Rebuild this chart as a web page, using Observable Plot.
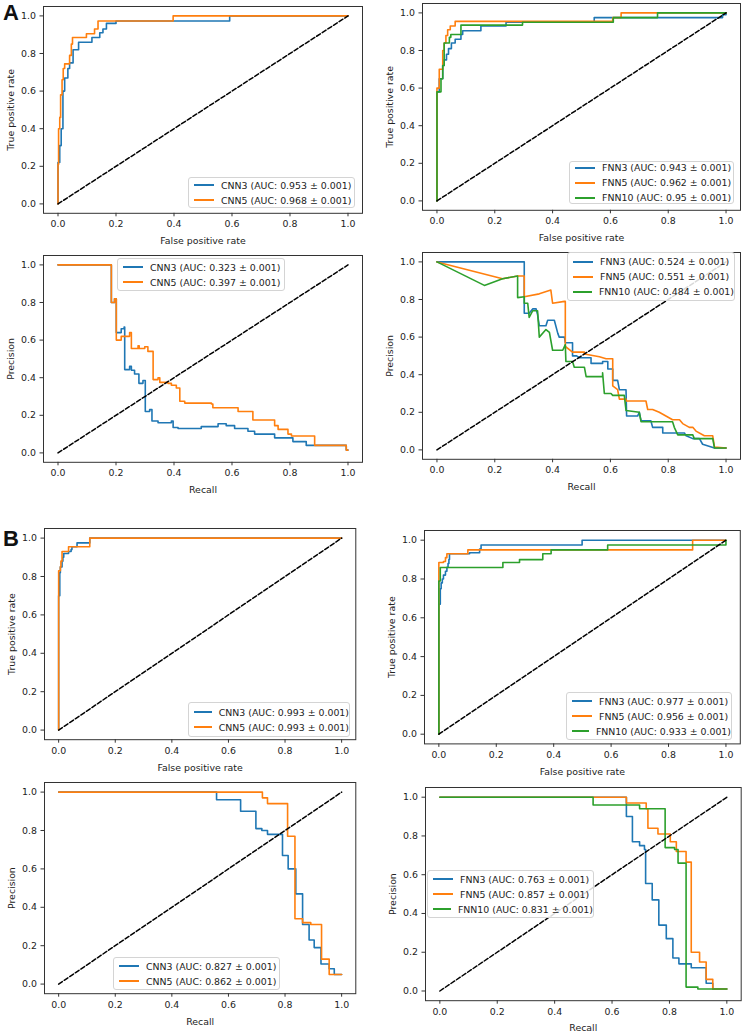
<!DOCTYPE html>
<html>
<head>
<meta charset="utf-8">
<script src="https://cdn.jsdelivr.net/npm/d3@7"></script>
<script src="https://cdn.jsdelivr.net/npm/@observablehq/plot@0.6"></script>
<style>
  html, body { margin: 0; padding: 0; background: #fff; overflow: hidden; }
  #fig { position: relative; width: 744px; height: 1033px; font-family: "DejaVu Sans", sans-serif; }
  .panel { position: absolute; }
  .tag { position: absolute; font-family: "Liberation Sans", Arial, sans-serif; font-weight: bold; font-size: 22px; line-height: 22px; color: #111; }
  .legend { position: absolute; box-sizing: border-box; border: 1px solid #d4d4d4; border-radius: 3px;
            background: rgba(255,255,255,0.85); display: flex; flex-direction: column; justify-content: center;
            font-family: "DejaVu Sans", sans-serif; font-size: 9.4px; color: #222; }
  .legend .row { height: 15px; line-height: 15px; white-space: nowrap; padding-left: 5px; display: flex; align-items: center; }
  .legend .handle { display: inline-block; width: 20px; height: 2px; margin-right: 7px; }
</style>
</head>
<body>
<div id="fig"></div>
<script>
// ---------- data ----------
const tickValues = [0, 0.2, 0.4, 0.6, 0.8, 1.0];
const chanceLine = [[0, 0], [1, 1]];

// A – ROC, CNN models  [false positive rate, true positive rate]
const A_roc_CNN3 = [[0,0],[0,0.22],[0.006,0.31],[0.011,0.40],[0.017,0.60],[0.023,0.67],[0.034,0.72],[0.04,0.75],[0.052,0.82],[0.071,0.86],[0.117,0.885],[0.144,0.91],[0.155,0.93],[0.167,0.96],[0.2,0.973],[0.592,1.0],[1,1]];
const A_roc_CNN5 = [[0,0],[0,0.21],[0.002,0.40],[0.006,0.46],[0.009,0.58],[0.014,0.66],[0.018,0.72],[0.023,0.745],[0.04,0.79],[0.046,0.85],[0.05,0.885],[0.098,0.905],[0.126,0.93],[0.138,0.973],[0.397,1.0],[1,1]];
const A_roc_CNN_auc = ["0.953", "0.968"];

// A – ROC, FNN models
const A_roc_FNN3 = [[0,0],[0,0.58],[0.008,0.65],[0.02,0.72],[0.025,0.75],[0.033,0.78],[0.04,0.81],[0.05,0.84],[0.063,0.86],[0.083,0.885],[0.089,0.905],[0.152,0.93],[0.239,0.95],[0.544,0.975],[0.988,0.99],[1,1]];
const A_roc_FNN5 = [[0,0],[0,0.6],[0.008,0.7],[0.02,0.8],[0.025,0.84],[0.031,0.88],[0.037,0.91],[0.046,0.93],[0.063,0.955],[0.608,0.975],[0.637,1.0],[1,1]];
const A_roc_FNN10 = [[0,0],[0,0.58],[0.014,0.65],[0.02,0.72],[0.025,0.84],[0.043,0.87],[0.048,0.885],[0.083,0.935],[0.296,0.95],[0.61,0.975],[0.763,1.0],[1,1]];
const A_roc_FNN_auc = ["0.943", "0.962", "0.95"];

// A – precision/recall, CNN models  [recall, precision]
const A_pr_CNN3 = [[0,1],[0.184,0.80],[0.195,0.82],[0.201,0.64],[0.218,0.66],[0.228,0.67],[0.230,0.443],[0.247,0.46],[0.253,0.44],[0.264,0.42],[0.279,0.37],[0.293,0.385],[0.301,0.22],[0.316,0.23],[0.324,0.17],[0.345,0.16],[0.391,0.17],[0.397,0.135],[0.414,0.13],[0.494,0.14],[0.552,0.155],[0.58,0.145],[0.609,0.13],[0.655,0.115],[0.678,0.10],[0.747,0.08],[0.81,0.06],[0.856,0.04],[0.994,0.015],[1,0.015]];
const A_pr_CNN5 = [[0,1],[0.184,0.80],[0.195,0.82],[0.201,0.60],[0.218,0.62],[0.247,0.64],[0.253,0.555],[0.276,0.57],[0.28,0.555],[0.299,0.565],[0.31,0.54],[0.328,0.39],[0.345,0.40],[0.351,0.375],[0.379,0.37],[0.391,0.36],[0.408,0.345],[0.42,0.275],[0.437,0.265],[0.529,0.26],[0.534,0.24],[0.621,0.22],[0.672,0.175],[0.747,0.145],[0.759,0.125],[0.793,0.10],[0.805,0.09],[0.885,0.04],[0.994,0.015],[1,0.015]];
const A_pr_CNN_auc = ["0.323", "0.397"];

// A – precision/recall, FNN models
const A_pr_FNN3 = [[0,1],[0.302,1],[0.302,0.727],[0.319,0.727],[0.331,0.75],[0.343,0.75],[0.348,0.72],[0.354,0.66],[0.377,0.66],[0.383,0.69],[0.406,0.69],[0.418,0.62],[0.423,0.6],[0.441,0.6],[0.444,0.57],[0.469,0.57],[0.469,0.5],[0.483,0.5],[0.493,0.49],[0.533,0.49],[0.533,0.46],[0.573,0.46],[0.573,0.47],[0.591,0.47],[0.591,0.43],[0.608,0.43],[0.608,0.37],[0.625,0.37],[0.631,0.32],[0.654,0.32],[0.656,0.18],[0.694,0.18],[0.7,0.2],[0.706,0.155],[0.74,0.155],[0.746,0.12],[0.781,0.12],[0.781,0.09],[0.856,0.09],[0.862,0.075],[0.885,0.06],[0.908,0.06],[0.919,0.03],[0.96,0.01],[1,0.01]];
const A_pr_FNN5 = [[0,1],[0.227,0.91],[0.279,0.925],[0.302,0.925],[0.302,0.815],[0.354,0.83],[0.394,0.85],[0.4,0.78],[0.441,0.79],[0.444,0.79],[0.444,0.55],[0.469,0.52],[0.51,0.52],[0.51,0.51],[0.562,0.495],[0.585,0.485],[0.608,0.485],[0.608,0.34],[0.625,0.32],[0.631,0.27],[0.654,0.27],[0.654,0.26],[0.723,0.26],[0.729,0.215],[0.746,0.215],[0.769,0.2],[0.792,0.18],[0.815,0.16],[0.839,0.16],[0.85,0.14],[0.873,0.12],[0.885,0.12],[0.896,0.1],[0.925,0.075],[0.954,0.075],[0.96,0.015],[1,0.01]];
const A_pr_FNN10 = [[0,1],[0.164,0.875],[0.227,0.91],[0.279,0.925],[0.279,0.81],[0.302,0.815],[0.302,0.78],[0.314,0.78],[0.319,0.705],[0.331,0.74],[0.348,0.74],[0.354,0.6],[0.377,0.64],[0.389,0.625],[0.4,0.53],[0.435,0.53],[0.444,0.56],[0.446,0.47],[0.469,0.47],[0.475,0.44],[0.51,0.44],[0.516,0.39],[0.573,0.39],[0.573,0.41],[0.579,0.3],[0.602,0.3],[0.608,0.29],[0.648,0.29],[0.654,0.21],[0.7,0.2],[0.706,0.15],[0.815,0.15],[0.821,0.12],[0.833,0.08],[0.885,0.08],[0.89,0.06],[0.954,0.06],[0.96,0.01],[1,0.01]];
const A_pr_FNN_auc = ["0.524", "0.551", "0.484"];

// B – ROC, CNN models
const B_roc_CNN3 = [[0,0],[0,0.7],[0.004,0.82],[0.006,0.85],[0.012,0.88],[0.015,0.9],[0.018,0.92],[0.035,0.93],[0.044,0.94],[0.047,0.955],[0.065,0.975],[0.11,1.0],[1,1]];
const B_roc_CNN5 = [[0,0],[0,0.83],[0.006,0.85],[0.008,0.88],[0.012,0.93],[0.035,0.955],[0.11,1.0],[1,1]];
const B_roc_CNN_auc = ["0.993", "0.993"];

// B – ROC, FNN models
const B_roc_FNN3 = [[0,0],[0,0.67],[0.005,0.75],[0.008,0.78],[0.012,0.8],[0.016,0.82],[0.023,0.84],[0.028,0.86],[0.032,0.88],[0.035,0.9],[0.037,0.93],[0.107,0.935],[0.142,0.955],[0.147,0.975],[0.499,1.0],[1,1]];
const B_roc_FNN5 = [[0,0],[0,0.885],[0.016,0.89],[0.023,0.91],[0.028,0.93],[0.101,0.95],[0.884,1.0],[1,1]];
const B_roc_FNN10 = [[0,0],[0,0.79],[0.005,0.859],[0.223,0.885],[0.281,0.9],[0.362,0.93],[0.391,0.95],[0.588,0.975],[1,0.99],[1,1]];
const B_roc_FNN_auc = ["0.977", "0.956", "0.933"];

// B – precision/recall, CNN models
const B_pr_CNN3 = [[0,1],[0.558,0.96],[0.643,0.9],[0.697,0.81],[0.718,0.8],[0.738,0.78],[0.791,0.67],[0.811,0.6],[0.838,0.47],[0.862,0.31],[0.885,0.23],[0.903,0.19],[0.927,0.105],[0.956,0.08],[0.974,0.05],[1,0.05]];
const B_pr_CNN5 = [[0,1],[0.72,0.97],[0.738,0.94],[0.809,0.77],[0.835,0.34],[0.862,0.32],[0.891,0.31],[0.929,0.13],[0.956,0.05],[1,0.05]];
const B_pr_CNN_auc = ["0.827", "0.862"];

// B – precision/recall, FNN models
const B_pr_FNN3 = [[0,1],[0.65,0.9],[0.671,0.77],[0.696,0.75],[0.713,0.73],[0.717,0.555],[0.74,0.47],[0.763,0.34],[0.789,0.27],[0.812,0.17],[0.833,0.14],[0.876,0.12],[0.928,0.04],[0.951,0.01],[1,0.01]];
const B_pr_FNN5 = [[0,1],[0.65,0.97],[0.719,0.94],[0.725,0.84],[0.76,0.81],[0.803,0.77],[0.824,0.72],[0.858,0.665],[0.876,0.2],[0.905,0.15],[0.928,0.06],[0.951,0.01],[1,0.01]];
const B_pr_FNN10 = [[0,1],[0.534,0.96],[0.696,0.94],[0.785,0.74],[0.818,0.73],[0.83,0.66],[0.858,0.02],[0.899,0.01],[1,0.01]];
const B_pr_FNN_auc = ["0.763", "0.857", "0.831"];

const cnnNames = ["CNN3", "CNN5"];
const fnnNames = ["FNN3", "FNN5", "FNN10"];
const panelTags = ["A", "B"];

// ---------- layout / style ----------
const colors = ["#1f77b4", "#ff7f0e", "#2ca02c"];
const ROC = {x: "False positive rate", y: "True positive rate"};
const PR = {x: "Recall", y: "Precision"};

const panels = [
  {frame: [42.5, 5.6, 361.5, 212.4], labels: ROC, curve: "step-after", names: cnnNames, series: [A_roc_CNN3, A_roc_CNN5], auc: A_roc_CNN_auc, legend: [188, 177, 167, 31], xOff: 31},
  {frame: [421.5, 2.6, 739.5, 209.4], labels: ROC, curve: "step-after", names: fnnNames, series: [A_roc_FNN3, A_roc_FNN5, A_roc_FNN10], auc: A_roc_FNN_auc, legend: [569, 161, 165, 43], xOff: 31},
  {frame: [42.5, 254.6, 361.5, 461.4], labels: PR, curve: "step-after", names: cnnNames, series: [A_pr_CNN3, A_pr_CNN5], auc: A_pr_CNN_auc, legend: [117, 258, 168, 33], xOff: 31},
  {frame: [421.5, 251.6, 739.5, 458.4], labels: PR, curve: "linear", names: fnnNames, series: [A_pr_FNN3, A_pr_FNN5, A_pr_FNN10], auc: A_pr_FNN_auc, legend: [567, 252, 168, 49], xOff: 31},
  {frame: [43.9, 528.4, 355.2, 739.6], labels: ROC, curve: "step-after", names: cnnNames, series: [B_roc_CNN3, B_roc_CNN5], auc: B_roc_CNN_auc, legend: [188, 702, 162, 35], xOff: 31},
  {frame: [423.6, 530.3, 739.4, 743.7], labels: ROC, curve: "step-after", names: fnnNames, series: [B_roc_FNN3, B_roc_FNN5, B_roc_FNN10], auc: B_roc_FNN_auc, legend: [566, 692, 166, 48], xOff: 31},
  {frame: [43.9, 782.4, 355.2, 993.6], labels: PR, curve: "step-after", names: cnnNames, series: [B_pr_CNN3, B_pr_CNN5], auc: B_pr_CNN_auc, legend: [113, 957, 167, 33], xOff: 31},
  {frame: [424.7, 787.3, 740.4, 1000.5], labels: PR, curve: "step-after", names: fnnNames, series: [B_pr_FNN3, B_pr_FNN5, B_pr_FNN10], auc: B_pr_FNN_auc, legend: [427, 870, 167, 48], xOff: 30}
];
const tagPos = [[3, 2], [3, 528]];

const fig = document.getElementById("fig");
const M = {l: 42, r: 3, t: 2, b: 31};

panels.forEach((p) => {
  const [L, T, R, B] = p.frame;
  const width = R - L + M.l + M.r;
  const height = B - T + M.t + M.b;
  const chart = Plot.plot({
    width, height,
    marginLeft: M.l, marginRight: M.r, marginTop: M.t, marginBottom: M.b,
    style: {background: "transparent", fontFamily: "DejaVu Sans, sans-serif", fontSize: "9.4px", color: "#222", overflow: "visible"},
    x: {domain: [-0.05, 1.05]},
    y: {domain: [-0.05, 1.05]},
    marks: [
      Plot.axisX({ticks: tickValues, tickFormat: ".1f", tickSize: 3.5, tickPadding: 4, stroke: "#333",
                  label: p.labels.x, labelAnchor: "center", labelArrow: "none", labelOffset: p.xOff}),
      Plot.axisY({ticks: tickValues, tickFormat: ".1f", tickSize: 3.5, tickPadding: 4, stroke: "#333",
                  label: p.labels.y, labelAnchor: "center", labelArrow: "none", labelOffset: 36}),
      ...p.series.map((s, i) => Plot.line(s, {x: (d) => d[0], y: (d) => d[1], stroke: colors[i], strokeWidth: 1.6, curve: p.curve})),
      Plot.line(chanceLine, {x: (d) => d[0], y: (d) => d[1], stroke: "#000", strokeWidth: 1.5, strokeDasharray: "4.5,2.2"}),
      Plot.frame({stroke: "#333", strokeWidth: 1})
    ]
  });
  const holder = document.createElement("div");
  holder.className = "panel";
  holder.style.left = (L - M.l) + "px";
  holder.style.top = (T - M.t) + "px";
  holder.appendChild(chart);
  fig.appendChild(holder);

  const [lx, ly, lw, lh] = p.legend;
  const lg = document.createElement("div");
  lg.className = "legend";
  Object.assign(lg.style, {left: lx + "px", top: ly + "px", width: lw + "px", height: lh + "px"});
  p.names.forEach((name, i) => {
    const row = document.createElement("div");
    row.className = "row";
    const h = document.createElement("span");
    h.className = "handle";
    h.style.background = colors[i];
    row.appendChild(h);
    row.appendChild(document.createTextNode(`${name} (AUC: ${p.auc[i]} \u00b1 0.001)`));
    lg.appendChild(row);
  });
  fig.appendChild(lg);
});

panelTags.forEach((t, i) => {
  const d = document.createElement("div");
  d.className = "tag";
  d.style.left = tagPos[i][0] + "px";
  d.style.top = tagPos[i][1] + "px";
  d.textContent = t;
  fig.appendChild(d);
});
</script>
</body>
</html>
